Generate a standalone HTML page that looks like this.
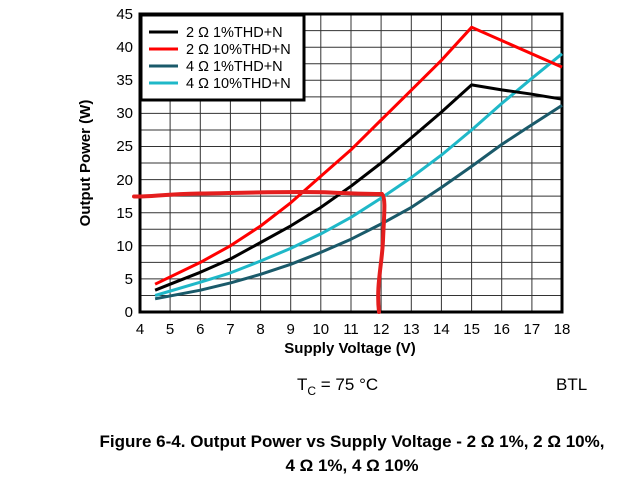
<!DOCTYPE html>
<html><head><style>
body{margin:0;background:#fff;}
svg text{font-family:"Liberation Sans",Arial,sans-serif;}
</style></head><body>
<svg width="633" height="480" viewBox="0 0 633 480" xmlns="http://www.w3.org/2000/svg">
<rect width="633" height="480" fill="#fff"/>
<g stroke="#333" stroke-width="1">
<path d="M170.1 14V312M200.3 14V312M230.4 14V312M260.6 14V312M290.7 14V312M320.8 14V312M351 14V312M381.1 14V312M411.3 14V312M441.4 14V312M471.6 14V312M501.7 14V312M531.9 14V312"/>
<path d="M140 295.45H562M140 278.9H562M140 262.35H562M140 245.8H562M140 229.25H562M140 212.7H562M140 196.15H562M140 179.6H562M140 163.05H562M140 146.5H562M140 129.95H562M140 113.4H562M140 96.85H562M140 80.3H562M140 63.75H562M140 47.2H562M140 30.65H562"/>
</g>
<rect x="140" y="14" width="422" height="298" fill="none" stroke="#000" stroke-width="3"/>
<g fill="none" stroke-width="3" stroke-linejoin="round">
<polyline stroke="#1a5a6a" points="155.1,298.8 200.3,290.2 230.4,282.9 260.6,274.3 290.7,264.3 320.8,252.4 351,239.2 381.1,224 411.3,207.4 441.4,187.5 471.6,166.4 501.7,144.5 531.9,124.7 562,105.4"/>
<polyline stroke="#1fb8c8" points="155.1,295.5 200.3,282.2 230.4,272.9 260.6,261 290.7,248.4 320.8,233.9 351,217.3 381.1,198.1 411.3,177.6 441.4,155.1 471.6,130 501.7,103.5 531.9,78.3 562,53.8"/>
<polyline stroke="#000" points="155.1,290.2 170.1,284.2 200.3,272.3 230.4,259 260.6,242.5 290.7,225.9 320.8,207.4 351,186.2 381.1,163 411.3,137.9 441.4,112.1 471.6,84.9 501.7,89.9 531.9,94.2 562,99.2"/>
<polyline stroke="#ff0000" points="155.1,284.2 200.3,262.4 230.4,245.8 260.6,226 290.7,202.8 320.8,176.3 351,149.8 381.1,120 411.3,90.2 441.4,60.3 471.6,27.3 562,67.1"/>
</g>
<path d="M134 196.5 C150 197,165 194,200 193.5 S300 191,330 192.5 S370 194,382 194 C386 198,384 215,383 240 S376 285,379 312" fill="none" stroke="#e41e1e" stroke-width="4" stroke-linecap="round"/>
<rect x="141" y="15" width="163" height="85" fill="#fff" stroke="#000" stroke-width="3"/>
<g stroke-width="3">
<line x1="149" y1="32" x2="178" y2="32" stroke="#000"/>
<line x1="149" y1="49" x2="178" y2="49" stroke="#ff0000"/>
<line x1="149" y1="66" x2="178" y2="66" stroke="#1a5a6a"/>
<line x1="149" y1="83" x2="178" y2="83" stroke="#1fb8c8"/>
</g>
<g font-size="14.5" fill="#000">
<text x="186" y="37">2 Ω 1%THD+N</text>
<text x="186" y="54">2 Ω 10%THD+N</text>
<text x="186" y="71">4 Ω 1%THD+N</text>
<text x="186" y="88">4 Ω 10%THD+N</text>
</g>
<g font-size="15" text-anchor="end">
<text x="133" y="317">0</text><text x="133" y="284">5</text><text x="133" y="251">10</text><text x="133" y="218">15</text><text x="133" y="185">20</text><text x="133" y="151">25</text><text x="133" y="118">30</text><text x="133" y="85">35</text><text x="133" y="52">40</text><text x="133" y="19">45</text>
</g>
<g font-size="15" text-anchor="middle">
<text x="140" y="334">4</text><text x="170.1" y="334">5</text><text x="200.3" y="334">6</text><text x="230.4" y="334">7</text><text x="260.6" y="334">8</text><text x="290.7" y="334">9</text><text x="320.8" y="334">10</text><text x="351" y="334">11</text><text x="381.1" y="334">12</text><text x="411.3" y="334">13</text><text x="441.4" y="334">14</text><text x="471.6" y="334">15</text><text x="501.7" y="334">16</text><text x="531.9" y="334">17</text><text x="562" y="334">18</text>
</g>
<text x="350" y="353" font-size="15" font-weight="bold" text-anchor="middle">Supply Voltage (V)</text>
<text transform="translate(90,163) rotate(-90)" font-size="15" font-weight="bold" text-anchor="middle">Output Power (W)</text>
<text x="297" y="390" font-size="17">T<tspan font-size="12" dy="5">C</tspan><tspan dy="-5"> = 75 °C</tspan></text>
<text x="556" y="390" font-size="17">BTL</text>
<text x="352" y="447" font-size="17" font-weight="bold" text-anchor="middle">Figure 6-4. Output Power vs Supply Voltage - 2 Ω 1%, 2 Ω 10%,</text>
<text x="352" y="471" font-size="17" font-weight="bold" text-anchor="middle">4 Ω 1%, 4 Ω 10%</text>
</svg>
</body></html>
